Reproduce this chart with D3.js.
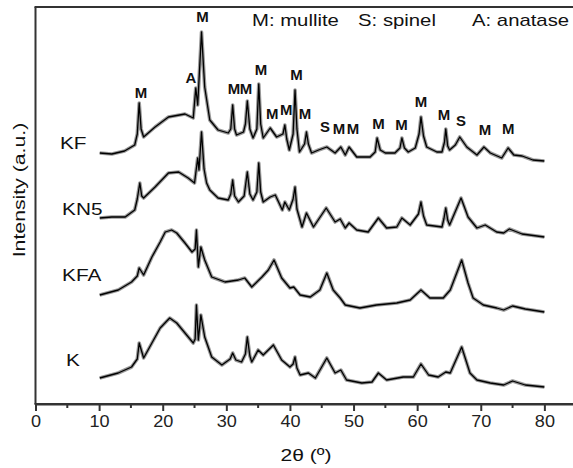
<!DOCTYPE html>
<html><head><meta charset="utf-8">
<script src="https://cdn.jsdelivr.net/npm/d3@7"></script>
<style>body{margin:0;background:#fff}svg{display:block}</style>
</head><body><svg id="c" width="573" height="468"></svg>
<script>
// ---- data (2θ in degrees, intensity in arbitrary units) ----
const xTicks = [0, 10, 20, 30, 40, 50, 60, 70, 80];
const xMinorTicks = [5, 15, 25, 35, 45, 55, 65, 75];
const seriesNames = ["KF", "KN5", "KFA", "K"];

const KF = [[10.1,251],[12,250],[14,253],[15.6,259],[16.0,270],[16.3,301],[16.6,275],[17,267],[18.8,277],[20.9,287],[23.5,290],[24.8,286],[25.2,316],[25.5,299],[26.1,372],[26.6,317],[27.4,284],[28.7,274],[30.3,271],[30.7,275],[31.0,299],[31.3,275],[31.6,269],[32.7,272],[33.0,280],[33.3,303],[33.7,275],[34.2,266],[34.8,275],[35.1,320],[35.4,280],[35.8,266],[36.9,276],[37.9,267],[38.9,270],[39.2,279],[39.5,265],[39.9,254],[40.5,270],[40.8,314],[41.1,275],[41.5,252],[42.3,260],[42.6,272],[42.9,260],[43.4,251],[44.5,254],[45.8,257],[47.1,251],[48.0,257],[48.7,249],[49.3,257],[50.5,247],[52.6,247],[53.4,252],[53.7,266],[54.2,254],[55,251],[56.5,251],[57.3,256],[57.6,266],[58.0,256],[58.6,252],[59.7,256],[60.3,270],[60.6,287],[61.0,268],[61.5,257],[63.1,252],[63.9,252],[64.3,262],[64.5,275],[64.8,258],[65.1,254],[66.0,259],[66.7,267],[67.8,257],[69.4,249],[70.5,257],[71.5,251],[73.3,246],[74.3,256],[75.2,249],[76.5,248],[78.2,244],[80,243]];

const KN5 = [[10.1,186],[12,187],[14.1,187],[15.6,194],[16.0,205],[16.4,221],[16.7,208],[17,206],[18.8,217],[20.9,231],[22.5,232],[24,226],[25,221],[25.5,246],[25.7,234],[26.1,272],[26.5,235],[26.9,221],[27.4,214],[28.7,206],[30.3,204],[30.7,210],[31.0,224],[31.3,208],[31.9,202],[32.8,208],[33.3,232],[33.7,210],[34.2,204],[34.8,212],[35.1,241],[35.4,212],[35.8,202],[36.9,207],[37.7,209],[38.8,194],[39.2,202],[39.9,194],[40.5,205],[40.8,217],[41.1,195],[41.9,177],[42.6,191],[43.7,177],[45.7,196],[47.1,182],[47.9,185],[48.7,176],[49.3,181],[50.5,174],[52.3,172],[53.9,186],[55.2,176],[56.8,177],[57.6,186],[58.9,179],[60.2,190],[60.6,202],[61.0,188],[61.5,179],[63.9,177],[64.2,185],[64.5,196],[64.8,184],[65.1,179],[66.9,206],[68,187],[69.4,176],[70.7,179],[72.5,172],[73.6,171],[74.5,175],[76.5,170],[80,167]];

const KFA = [[10.1,109],[13,114],[15.1,122],[16.0,128],[16.3,136],[17,129],[18.3,147],[19.6,162],[20.4,172],[21.4,174],[22.2,171],[23.5,161],[24.6,152],[25.1,155],[25.3,174],[25.6,137],[26.0,157],[26.6,144],[27.7,127],[29.8,122],[31.9,124],[32.9,126],[34,117],[35.6,127],[36.6,134],[37.5,144],[38.7,126],[40,116],[40.6,117],[41.6,109],[43.2,107],[44.7,114],[45.8,131],[46.8,114],[47.9,106],[48.7,99],[51,96],[53.6,99],[56.8,101],[58.9,104],[60.6,114],[62,106],[64.1,106],[65.2,114],[67,144],[68,121],[68.8,106],[70.4,99],[72.5,96],[73.6,94],[75,98],[77,95],[80,92]];

const K = [[10.1,26],[13,31],[15.1,37],[16.0,45],[16.3,61],[17,46],[18.3,61],[19.6,76],[21.1,86],[22.2,81],[23.5,71],[24.8,61],[25.1,65],[25.3,99],[25.6,64],[26.0,89],[26.6,67],[27.7,47],[29.3,39],[30.6,45],[31.0,51],[31.5,44],[32.4,42],[33.0,50],[33.3,67],[33.7,48],[34,42],[35,54],[35.8,49],[37.4,59],[38.7,44],[40,37],[40.5,40],[40.8,47],[41.1,36],[41.6,29],[42.9,31],[44,26],[45.8,46],[47.1,31],[48,34],[48.9,24],[51.3,21],[52.9,22],[53.9,31],[55.2,24],[57.8,27],[59.4,27],[60.6,40],[61.8,29],[63.3,27],[64.5,32],[65.2,31],[67,57],[68.3,31],[69.4,24],[71.5,21],[73.6,19],[75,23],[77,19],[80,17]];

// sample name labels: [2θ, intensity]
const seriesLabelPos = [[3.85,261],[4.17,195],[4.17,129],[4.8,44]];

// phase labels: [2θ, intensity, text]
const phaseLabels = [[16.6,311,"M"],[24.45,326,"A"],[26.26,387,"M"],[31.2,315,"M"],[33.1,315,"M"],[35.45,334,"M"],[37.2,290,"M"],[39.4,294,"M"],[41.04,329,"M"],[42.37,290,"M"],[45.5,277,"S"],[47.72,275,"M"],[49.92,275,"M"],[53.93,280,"M"],[57.55,279,"M"],[60.61,302,"M"],[64.23,289,"M"],[66.9,283,"S"],[70.68,274,"M"],[74.3,275,"M"]];

const legendItems = ["M: mullite", "S: spinel", "A: anatase"];
const legendPos = [[34.04,384],[50.71,384],[68.63,384]];

// ---- drawing ----
const svg = d3.select("#c");
const font = "'Liberation Sans', Arial, Helvetica, sans-serif";
const x = d3.scaleLinear().domain([0, 84.5]).range([35.5, 573]);
const y = d3.scaleLinear().domain([0, 397]).range([404, 7]);

// text drawn with a horizontal stretch, like the original figure
function stext(parent, px, py, str, size, sx, anchor, weight, rot) {
  const g = parent.append("g").attr("transform",
    `translate(${px},${py})` + (rot ? ` rotate(${rot})` : "") + ` scale(${sx},1)`);
  g.append("text").attr("text-anchor", anchor || "start").attr("dy", "0.36em")
    .attr("font-family", font).attr("font-size", size).attr("font-weight", weight || "normal")
    .attr("fill", "#111").text(str);
  return g;
}

const line = d3.line().x(d => x(d[0])).y(d => y(d[1])).curve(d3.curveLinear);
const allSeries = [KF, KN5, KFA, K];

allSeries.forEach(s => {
  svg.append("path").attr("d", line(s)).attr("fill", "none")
    .attr("stroke", "#555").attr("stroke-width", 3.6).attr("stroke-opacity", 0.6)
    .attr("stroke-linejoin", "round");
  svg.append("path").attr("d", line(s)).attr("fill", "none")
    .attr("stroke", "#000").attr("stroke-width", 1.3).attr("stroke-linejoin", "round");
});

// frame: left, top, bottom
const axisColor = "#333";
svg.append("line").attr("x1", x(0)).attr("x2", x(0)).attr("y1", y(397)).attr("y2", y(0))
  .attr("stroke", axisColor).attr("stroke-width", 2);
svg.append("line").attr("x1", x(0) - 1).attr("x2", 573).attr("y1", y(397)).attr("y2", y(397))
  .attr("stroke", axisColor).attr("stroke-width", 2);

const xAxis = d3.axisBottom(x).tickValues(xTicks).tickSize(7).tickSizeOuter(0).tickPadding(5);
const gx = svg.append("g").attr("transform", `translate(0,${y(0)})`).call(xAxis);
gx.select(".domain").attr("stroke", axisColor).attr("stroke-width", 2);
gx.selectAll(".tick line").attr("stroke", axisColor).attr("stroke-width", 2);
gx.selectAll(".tick text").attr("font-family", font).attr("font-size", 16).attr("fill", "#222")
  .attr("transform", "scale(1.13,1)");
svg.append("line").attr("x1", x(0) - 1).attr("x2", 573).attr("y1", y(0)).attr("y2", y(0))
  .attr("stroke", axisColor).attr("stroke-width", 2);
svg.append("g").selectAll("line").data(xMinorTicks).join("line")
  .attr("x1", d => x(d)).attr("x2", d => x(d)).attr("y1", y(0)).attr("y2", y(0) + 4)
  .attr("stroke", axisColor).attr("stroke-width", 2);

// axis titles
stext(svg, x(42.53), 455, "2θ (º)", 17, 1.24, "middle");
stext(svg, 19, y(214), "Intensity (a.u.)", 17, 1.25, "middle", "normal", -90);

// sample labels
seriesNames.forEach((n, i) => stext(svg, x(seriesLabelPos[i][0]), y(seriesLabelPos[i][1]), n, 16, 1.3, "start"));

// phase labels
phaseLabels.forEach(d => stext(svg, x(d[0]), y(d[1]), d[2], 14, 1.07, "middle", "bold"));

// legend text
legendItems.forEach((t, i) => stext(svg, x(legendPos[i][0]), y(legendPos[i][1]), t, 16, 1.27, "start"));
</script></body></html>
